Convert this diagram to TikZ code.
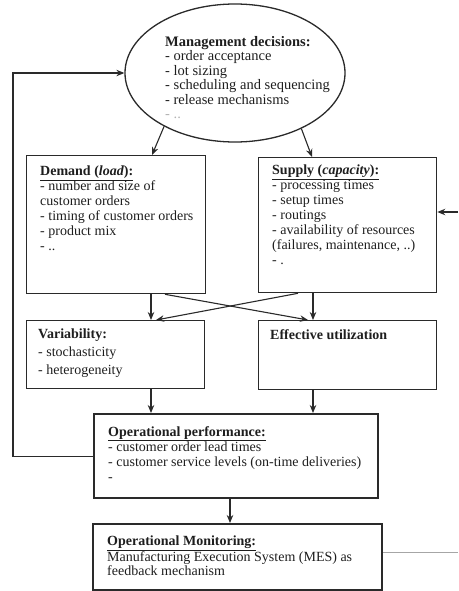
\documentclass[tikz,border=0pt]{standalone}
\usepackage{fontspec}
\setmainfont{Liberation Serif}
\usetikzlibrary{shapes.geometric,arrows.meta,calc}
\definecolor{linec}{HTML}{2A2A2A}
\definecolor{textc}{HTML}{1E1E1E}
\begin{document}
\begin{tikzpicture}[x=1pt,y=-1pt,
  box/.style={draw=linec, line width=1.3pt, anchor=north west, inner sep=0pt},
  thickbox/.style={box, line width=2.4pt},
  txt/.style={anchor=north west, inner sep=0pt, align=left, text=textc, font=\fontsize{14}{15}\selectfont},
  arr/.style={draw=linec, line width=1.1pt, -{Stealth[length=8pt,width=6.5pt]}}]
\useasboundingbox (0,0) rectangle (458,591);
% ellipse
\node[ellipse, draw=linec, line width=1.3pt, minimum width=220pt, minimum height=138pt, inner sep=0pt] (mgmt) at (235,73) {};
\node[txt, font=\fontsize{14.5}{14.5}\selectfont] (mtext) at (165,36) {\textbf{Management decisions:}\\- order acceptance\\- lot sizing\\- scheduling and sequencing\\- release mechanisms\\\textcolor{black!30}{- ..}};
% boxes
\node[box, minimum width=179pt, minimum height=138pt] (demand) at (26,155) {};
\node[box, minimum width=178pt, minimum height=135pt] (supply) at (258,157) {};
\node[box, minimum width=178pt, minimum height=68pt] (var) at (26,320) {};
\node[box, minimum width=178pt, minimum height=69pt] (eff) at (258,320) {};
\node[thickbox, minimum width=284pt, minimum height=84pt] (opperf) at (93,413) {};
\node[thickbox, minimum width=289pt, minimum height=66pt] (monitor) at (92,523) {};
% texts
\node[txt] (dtext) at (40,166) {\textbf{\underline{Demand (\textit{load}):}}\\- number and size of\\customer orders\\- timing of customer orders\\- product mix\\- ..};
\node[txt] (stext) at (272,165) {\textbf{\underline{Supply (\textit{capacity}):}}\\- processing times\\- setup times\\- routings\\- availability of resources\\(failures, maintenance, ..)\\- .};
\node[txt, font=\fontsize{14}{18}\selectfont] (vtext) at (38,329) {\textbf{Variability:}\\- stochasticity\\- heterogeneity};
\node[txt] (etext) at (270,329) {\textbf{Effective utilization}};
\node[txt] (otext) at (108,426) {\textbf{\underline{Operational performance:}}\\- customer order lead times\\- customer service levels (on-time deliveries)\\-};
\node[txt, font=\fontsize{14}{14}\selectfont] (mntext) at (107,536) {\textbf{\underline{Operational Monitoring:}}\\Manufacturing Execution System (MES) as\\feedback mechanism};
% arrows from ellipse
\draw[arr] (mgmt.217.6) -- ($(demand.north west)+(126,0)$);
\draw[arr] (mgmt.320) -- ($(supply.north west)+(54,0)$);
% vertical and crossing arrows
\coordinate (d1) at ($(demand.south west)+(125,0)$);
\coordinate (d2) at ($(demand.south west)+(139,0)$);
\coordinate (s1) at ($(supply.south west)+(55,0)$);
\coordinate (s2) at ($(supply.south west)+(40,0)$);
\draw[arr] (d1) -- (d1 |- var.north);
\draw[arr] (s1) -- (s1 |- eff.north);
\draw[arr] (d2) -- ($(eff.north west)+(50,0)$);
\draw[arr] (s2) -- ($(var.north west)+(130,0)$);
\coordinate (v1) at ($(var.south west)+(125,0)$);
\coordinate (e1) at ($(eff.south west)+(55,0)$);
\draw[arr] (v1) -- (v1 |- opperf.north);
\draw[arr] (e1) -- (e1 |- opperf.north);
\coordinate (o1) at ($(opperf.south west)+(137,0)$);
\draw[arr] (o1) -- (o1 |- monitor.north);
% feedback loop
\coordinate (fbl) at (13,455);
\draw[arr] (opperf.west) -- (opperf.west -| fbl) |- (mgmt.west);
% right input
\coordinate (rin) at (458,212);
\draw[arr] (rin) -- (rin -| supply.east);
% faint line on right
\coordinate (gr) at (458,552);
\draw[black!35, line width=0.8pt] (gr -| monitor.east) -- (gr);
\end{tikzpicture}
\end{document}
